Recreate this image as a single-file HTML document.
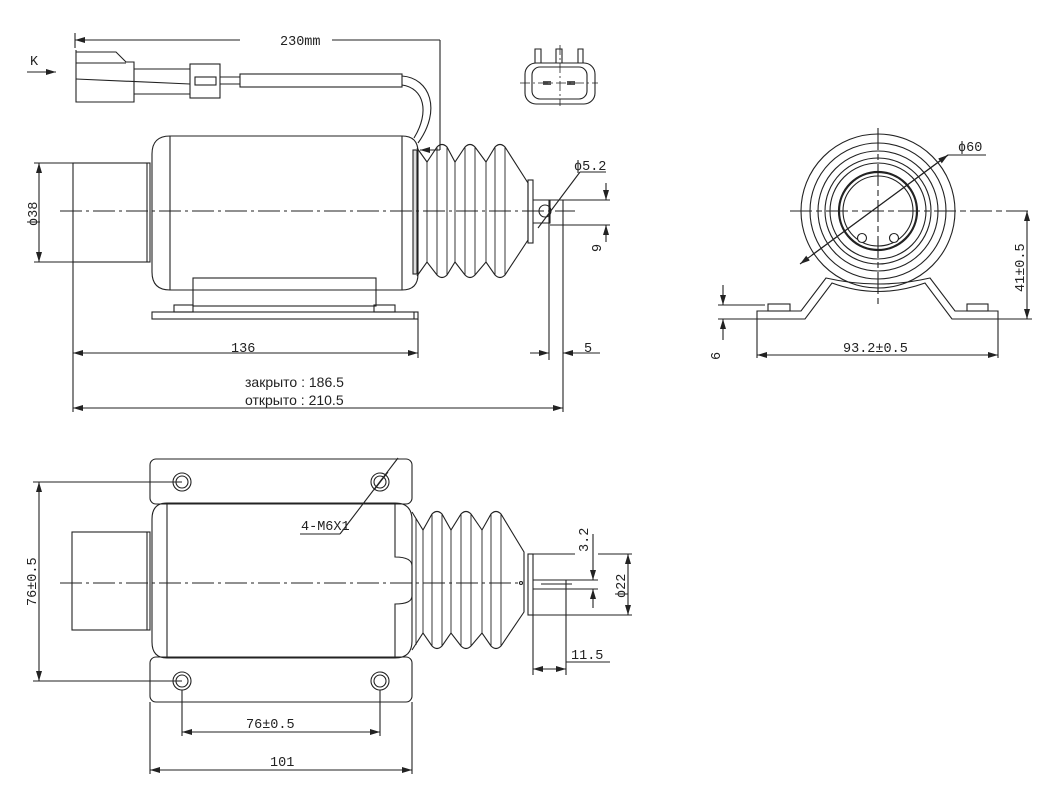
<!DOCTYPE html>
<html><head><meta charset="utf-8"><style>
html,body{margin:0;padding:0;background:#fff}
svg{display:block}
text{font-family:"Liberation Mono",monospace;font-size:13.5px;fill:#222}
</style></head><body>
<svg width="1053" height="797" viewBox="0 0 1053 797" xmlns="http://www.w3.org/2000/svg">
<defs>
<marker id="a" viewBox="0 0 10 6" refX="10" refY="3" markerWidth="10" markerHeight="6" orient="auto-start-reverse" markerUnits="userSpaceOnUse"><path d="M0,0L10,3L0,6z" fill="#222"/></marker>
</defs>
<g fill="none" stroke="#222" stroke-width="1.1">
<!-- ===== TOP VIEW ===== -->
<line x1="75" y1="33" x2="75" y2="48"/>
<line x1="75" y1="40" x2="240" y2="40" marker-start="url(#a)"/>
<line x1="332" y1="40" x2="440" y2="40"/>
<line x1="440" y1="40" x2="440" y2="150"/>
<line x1="440" y1="150" x2="420" y2="150" marker-end="url(#a)"/>
<line x1="27" y1="72" x2="56" y2="72" marker-end="url(#a)"/>
<path d="M76,50 L76,102 L134,102 L134,62 L126,62 L116,52 L76,52"/>
<line x1="76" y1="63" x2="126" y2="63"/>
<line x1="76" y1="79" x2="190" y2="84"/>
<line x1="134" y1="69" x2="190" y2="69"/>
<line x1="134" y1="94" x2="190" y2="94"/>
<rect x="190" y="64" width="30" height="34"/>
<rect x="195" y="77" width="21" height="8"/>
<line x1="220" y1="77" x2="240" y2="77"/>
<line x1="220" y1="84" x2="240" y2="84"/>
<rect x="240" y="74" width="162" height="13"/>
<path d="M402,76 C430,78 442,110 418,143"/>
<path d="M402,85 C424,88 430,112 414,138"/>
<!-- connector face -->
<path d="M535,63 L535,49 L541,49 L541,63 L556,63 L556,49 L562,49 L562,63 L578,63 L578,49 L583,49 L583,63"/>
<rect x="525" y="63" width="70" height="41" rx="11"/>
<rect x="532" y="67" width="55" height="32" rx="8"/>
<rect x="543" y="81" width="8" height="4" fill="#555" stroke="none"/>
<rect x="567" y="81" width="8" height="4" fill="#555" stroke="none"/>
<line x1="520" y1="83" x2="598" y2="83" stroke-dasharray="10,3,2,3" stroke-width="0.8"/>
<line x1="560" y1="45" x2="560" y2="106" stroke-dasharray="10,3,2,3" stroke-width="0.8"/>
<rect x="73" y="163" width="77" height="99"/>
<line x1="147" y1="163" x2="147" y2="262"/>
<path d="M170,136 L402,136 Q418,136 418,152 L418,274 Q418,290 402,290 L170,290 Q152,290 152,272 L152,154 Q152,136 170,136z"/>
<line x1="170" y1="136" x2="170" y2="290"/>
<line x1="402" y1="136" x2="402" y2="290"/>
<rect x="193" y="278" width="183" height="28"/>
<rect x="174" y="305" width="19" height="7"/>
<rect x="374" y="305" width="21" height="7"/>
<rect x="152" y="312" width="266" height="7"/>
<line x1="414" y1="312" x2="414" y2="319"/>
<rect x="413" y="150" width="4" height="124" fill="#ddd"/>
<path d="M417,148 L427,162 L437,147 Q442,142 447,147 L455,162 L465,147 Q470,142 475,147 L486,162 L495,147 Q500,142 505,147 L528,183 L528,240 L505,275 Q500,280 495,275 L486,262 L475,275 Q470,280 465,275 L455,262 L447,275 Q442,280 437,275 L427,262 L417,276"/>
<g stroke-width="0.9">
<line x1="427" y1="162" x2="427" y2="262"/><line x1="437" y1="147" x2="437" y2="275"/><line x1="447" y1="147" x2="447" y2="275"/>
<line x1="455" y1="162" x2="455" y2="262"/><line x1="465" y1="147" x2="465" y2="275"/><line x1="475" y1="147" x2="475" y2="275"/>
<line x1="486" y1="162" x2="486" y2="262"/><line x1="495" y1="147" x2="495" y2="275"/><line x1="505" y1="147" x2="505" y2="275"/>
</g>
<rect x="528" y="180" width="5" height="63"/>
<path d="M533,200 L550,200 L550,223 L533,223"/>
<circle cx="545" cy="211" r="6"/>
<line x1="538" y1="228" x2="580" y2="172"/>
<line x1="580" y1="172" x2="606" y2="172"/>
<line x1="549" y1="200" x2="549" y2="360"/>
<line x1="563" y1="200" x2="563" y2="412"/>
<line x1="550" y1="200" x2="610" y2="200"/>
<line x1="550" y1="225" x2="610" y2="225"/>
<line x1="606" y1="183" x2="606" y2="200" marker-end="url(#a)"/>
<line x1="606" y1="242" x2="606" y2="225" marker-end="url(#a)"/>
<line x1="60" y1="211" x2="575" y2="211" stroke-dasharray="22,4,3,4"/>
<line x1="34" y1="163" x2="73" y2="163"/>
<line x1="34" y1="262" x2="73" y2="262"/>
<line x1="39" y1="163" x2="39" y2="262" marker-start="url(#a)" marker-end="url(#a)"/>
<line x1="73" y1="262" x2="73" y2="412"/>
<line x1="418" y1="319" x2="418" y2="358"/>
<line x1="73" y1="353" x2="418" y2="353" marker-start="url(#a)" marker-end="url(#a)"/>
<line x1="530" y1="353" x2="549" y2="353" marker-end="url(#a)"/>
<line x1="600" y1="353" x2="563" y2="353" marker-end="url(#a)"/>
<line x1="73" y1="408" x2="563" y2="408" marker-start="url(#a)" marker-end="url(#a)"/>

<!-- ===== SIDE VIEW ===== -->
<circle cx="878" cy="211" r="77"/>
<circle cx="878" cy="211" r="68"/>
<circle cx="878" cy="211" r="60"/>
<circle cx="878" cy="211" r="53"/>
<circle cx="878" cy="211" r="48"/>
<circle cx="878" cy="211" r="39" stroke-width="2.2"/>
<circle cx="878" cy="211" r="35"/>
<circle cx="862" cy="238" r="4.5" fill="#fff"/>
<circle cx="894" cy="238" r="4.5" fill="#fff"/>
<line x1="790" y1="211" x2="1032" y2="211" stroke-dasharray="22,4,6,4"/>
<line x1="878" y1="128" x2="878" y2="305" stroke-dasharray="22,4,6,4"/>
<path d="M757,311 L757,319 L805,319 L832,283 Q878,300 925,283 L952,319 L998,319 L998,311 L955,311 L930,278 Q878,290 826,278 L801,311z"/>
<rect x="768" y="304" width="22" height="7"/>
<rect x="967" y="304" width="21" height="7"/>
<line x1="800" y1="264" x2="948" y2="155" marker-start="url(#a)"/>
<line x1="812" y1="255" x2="948" y2="155" marker-end="url(#a)"/>
<line x1="948" y1="155" x2="986" y2="155"/>
<line x1="998" y1="319" x2="1032" y2="319"/>
<line x1="1027" y1="211" x2="1027" y2="319" marker-start="url(#a)" marker-end="url(#a)"/>
<line x1="718" y1="305" x2="765" y2="305"/>
<line x1="718" y1="319" x2="757" y2="319"/>
<line x1="723" y1="285" x2="723" y2="305" marker-end="url(#a)"/>
<line x1="723" y1="340" x2="723" y2="319" marker-end="url(#a)"/>
<line x1="757" y1="319" x2="757" y2="358"/>
<line x1="998" y1="319" x2="998" y2="358"/>
<line x1="757" y1="355" x2="998" y2="355" marker-start="url(#a)" marker-end="url(#a)"/>

<!-- ===== BOTTOM VIEW ===== -->
<rect x="150" y="459" width="262" height="45" rx="6"/>
<rect x="150" y="657" width="262" height="45" rx="6"/>
<path d="M167,503 L395,503 Q412,503 412,520 L412,641 Q412,658 395,658 L167,658 Q152,658 152,642 L152,519 Q152,503 167,503z"/>
<line x1="167" y1="503" x2="167" y2="658"/>
<path d="M395,503 L395,557 Q412,557 412,566 L412,596 Q412,604 395,604 L395,658"/>
<rect x="72" y="532" width="78" height="98"/>
<line x1="147" y1="532" x2="147" y2="630"/>
<g>
<circle cx="182" cy="482" r="9"/><circle cx="182" cy="482" r="6"/>
<circle cx="380" cy="482" r="9"/><circle cx="380" cy="482" r="6"/>
<circle cx="182" cy="681" r="9"/><circle cx="182" cy="681" r="6"/>
<circle cx="380" cy="681" r="9"/><circle cx="380" cy="681" r="6"/>
</g>
<path d="M412,512 L423,530 L432,514 Q437,509 442,514 L451,530 L461,514 Q466,509 471,514 L482,530 L491,514 Q496,509 501,514 L524,552 L524,612 L501,646 Q496,651 491,646 L482,633 L471,646 Q466,651 461,646 L451,633 L442,646 Q437,651 432,646 L423,633 L412,650"/>
<g stroke-width="0.9">
<line x1="416" y1="518" x2="416" y2="645"/>
<line x1="423" y1="530" x2="423" y2="633"/><line x1="432" y1="514" x2="432" y2="646"/><line x1="442" y1="514" x2="442" y2="646"/>
<line x1="451" y1="530" x2="451" y2="633"/><line x1="461" y1="514" x2="461" y2="646"/><line x1="471" y1="514" x2="471" y2="646"/>
<line x1="482" y1="530" x2="482" y2="633"/><line x1="491" y1="514" x2="491" y2="646"/><line x1="501" y1="514" x2="501" y2="646"/>
</g>
<rect x="528" y="554" width="5" height="61"/>
<line x1="533" y1="554" x2="575" y2="554"/>
<line x1="598" y1="554" x2="632" y2="554"/>
<line x1="533" y1="615" x2="632" y2="615"/>
<path d="M533,580 L566,580 L566,589 L533,589"/>
<line x1="541" y1="584" x2="572" y2="584"/>
<line x1="566" y1="589" x2="566" y2="675"/>
<line x1="533" y1="615" x2="533" y2="675"/>
<line x1="566" y1="580" x2="598" y2="580"/>
<line x1="566" y1="589" x2="598" y2="589"/>
<line x1="593" y1="534" x2="593" y2="580" marker-end="url(#a)"/>
<line x1="593" y1="608" x2="593" y2="589" marker-end="url(#a)"/>
<line x1="628" y1="554" x2="628" y2="615" marker-start="url(#a)" marker-end="url(#a)"/>
<line x1="533" y1="669" x2="566" y2="669" marker-start="url(#a)" marker-end="url(#a)"/>
<line x1="566" y1="662" x2="610" y2="662"/>
<circle cx="521" cy="583" r="1.5"/>
<line x1="60" y1="583" x2="520" y2="583" stroke-dasharray="22,4,3,4"/>
<line x1="398" y1="458" x2="340" y2="534"/>
<line x1="388" y1="472" x2="374" y2="490"/>
<line x1="340" y1="534" x2="300" y2="534"/>
<line x1="33" y1="482" x2="182" y2="482"/>
<line x1="33" y1="681" x2="182" y2="681"/>
<line x1="39" y1="482" x2="39" y2="681" marker-start="url(#a)" marker-end="url(#a)"/>
<line x1="182" y1="690" x2="182" y2="736"/>
<line x1="380" y1="690" x2="380" y2="736"/>
<line x1="182" y1="732" x2="380" y2="732" marker-start="url(#a)" marker-end="url(#a)"/>
<line x1="150" y1="702" x2="150" y2="774"/>
<line x1="412" y1="702" x2="412" y2="774"/>
<line x1="150" y1="770" x2="412" y2="770" marker-start="url(#a)" marker-end="url(#a)"/>
</g>

<text x="280" y="45">230mm</text>
<text x="30" y="65">K</text>
<text x="231" y="352">136</text>
<text x="584" y="352">5</text>
<text x="574" y="170">ϕ5.2</text>
<text x="245" y="387" style="font-family:'Liberation Sans',sans-serif;font-size:14px">закрыто : 186.5</text>
<text x="245" y="405" style="font-family:'Liberation Sans',sans-serif;font-size:14px">открыто : 210.5</text>
<text transform="translate(37,226) rotate(-90)">ϕ38</text>
<text transform="translate(601,252) rotate(-90)">9</text>
<text x="958" y="151">ϕ60</text>
<text transform="translate(1024,292) rotate(-90)">41±0.5</text>
<text transform="translate(720,360) rotate(-90)">6</text>
<text x="843" y="352">93.2±0.5</text>
<text x="301" y="530">4-M6X1</text>
<text transform="translate(36,606) rotate(-90)">76±0.5</text>
<text x="246" y="728">76±0.5</text>
<text x="270" y="766">101</text>
<text x="571" y="659">11.5</text>
<text transform="translate(588,552) rotate(-90)">3.2</text>
<text transform="translate(625,598) rotate(-90)">ϕ22</text>
</svg>
</body></html>
